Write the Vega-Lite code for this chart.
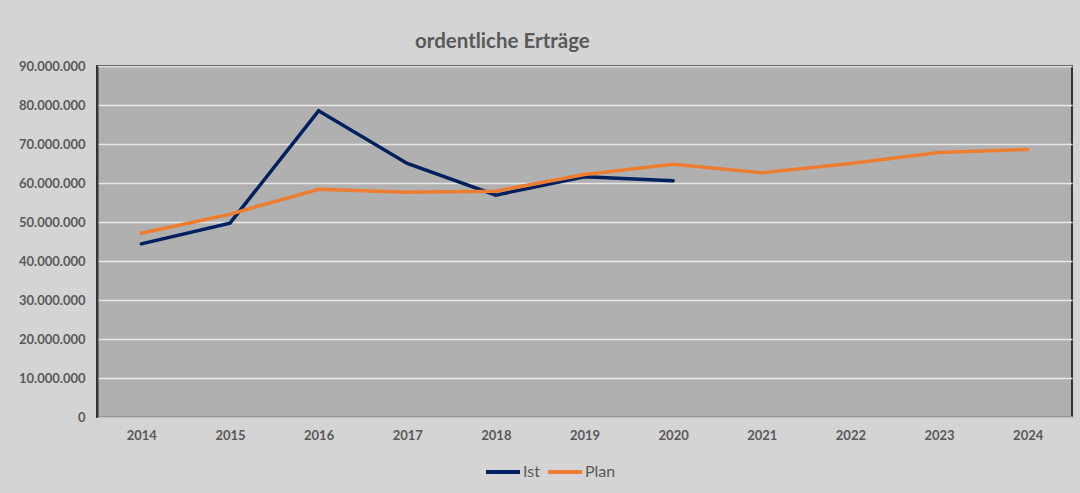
{
  "$schema": "https://vega.github.io/schema/vega-lite/v6.json",
  "width": 975,
  "height": 351,
  "autosize": {"type": "none"},
  "padding": {"left": 97, "top": 66, "right": 8, "bottom": 76},
  "background": "#d4d4d4",
  "title": {
    "text": "ordentliche Erträge",
    "anchor": "start",
    "frame": "group",
    "dx": 318,
    "offset": -8,
    "baseline": "alphabetic",
    "font": "Lato",
    "fontSize": 20.5,
    "fontWeight": "bold",
    "color": "#595959"
  },
  "config": {
    "locale": {"number": {"decimal": ",", "thousands": ".", "grouping": [3], "currency": ["", " €"]}},
    "view": {"fill": "#b0b0b0", "stroke": "#333333", "strokeWidth": 2},
    "font": "Lato"
  },
  "data": {
    "values": [
      {"year": "2014", "series": "Ist", "value": 44400000},
      {"year": "2015", "series": "Ist", "value": 49700000},
      {"year": "2016", "series": "Ist", "value": 78500000},
      {"year": "2017", "series": "Ist", "value": 65000000},
      {"year": "2018", "series": "Ist", "value": 56900000},
      {"year": "2019", "series": "Ist", "value": 61600000},
      {"year": "2020", "series": "Ist", "value": 60600000},
      {"year": "2014", "series": "Plan", "value": 47100000},
      {"year": "2015", "series": "Plan", "value": 52000000},
      {"year": "2016", "series": "Plan", "value": 58400000},
      {"year": "2017", "series": "Plan", "value": 57600000},
      {"year": "2018", "series": "Plan", "value": 57900000},
      {"year": "2019", "series": "Plan", "value": 62200000},
      {"year": "2020", "series": "Plan", "value": 64800000},
      {"year": "2021", "series": "Plan", "value": 62600000},
      {"year": "2022", "series": "Plan", "value": 65000000},
      {"year": "2023", "series": "Plan", "value": 67800000},
      {"year": "2024", "series": "Plan", "value": 68600000}
    ]
  },
  "mark": {"type": "line", "strokeWidth": 3.5, "strokeCap": "round", "strokeJoin": "miter"},
  "encoding": {
    "x": {
      "field": "year",
      "type": "ordinal",
      "scale": {"type": "point", "padding": 0.5},
      "axis": {
        "title": null,
        "labelAngle": 0,
        "ticks": false,
        "grid": false,
        "domain": true,
        "domainColor": "#c8c8c8",
        "domainWidth": 2,
        "labelPadding": 12,
        "labelFont": "Lato",
        "labelFontSize": 13,
        "labelFontWeight": "bold",
        "labelColor": "#595959"
      }
    },
    "y": {
      "field": "value",
      "type": "quantitative",
      "scale": {"domain": [0, 90000000], "nice": false},
      "axis": {
        "title": null,
        "values": [0, 10000000, 20000000, 30000000, 40000000, 50000000, 60000000, 70000000, 80000000, 90000000],
        "format": ",d",
        "ticks": false,
        "grid": true,
        "gridColor": "#e6e6e6",
        "gridWidth": 1.5,
        "domain": true,
        "domainColor": "#333333",
        "domainWidth": 2,
        "labelPadding": 12,
        "labelFont": "Lato",
        "labelFontSize": 13,
        "labelFontWeight": "bold",
        "labelColor": "#595959"
      }
    },
    "color": {
      "field": "series",
      "type": "nominal",
      "scale": {"domain": ["Ist", "Plan"], "range": ["#002060", "#ED7D31"]},
      "legend": {
        "title": null,
        "orient": "none",
        "direction": "horizontal",
        "legendX": 387,
        "legendY": 387,
        "symbolType": "stroke",
        "symbolSize": 1150,
        "symbolStrokeWidth": 4,
        "labelOffset": 1,
        "columnPadding": 0,
        "labelFont": "Lato",
        "labelFontSize": 16,
        "labelColor": "#595959"
      }
    }
  }
}
